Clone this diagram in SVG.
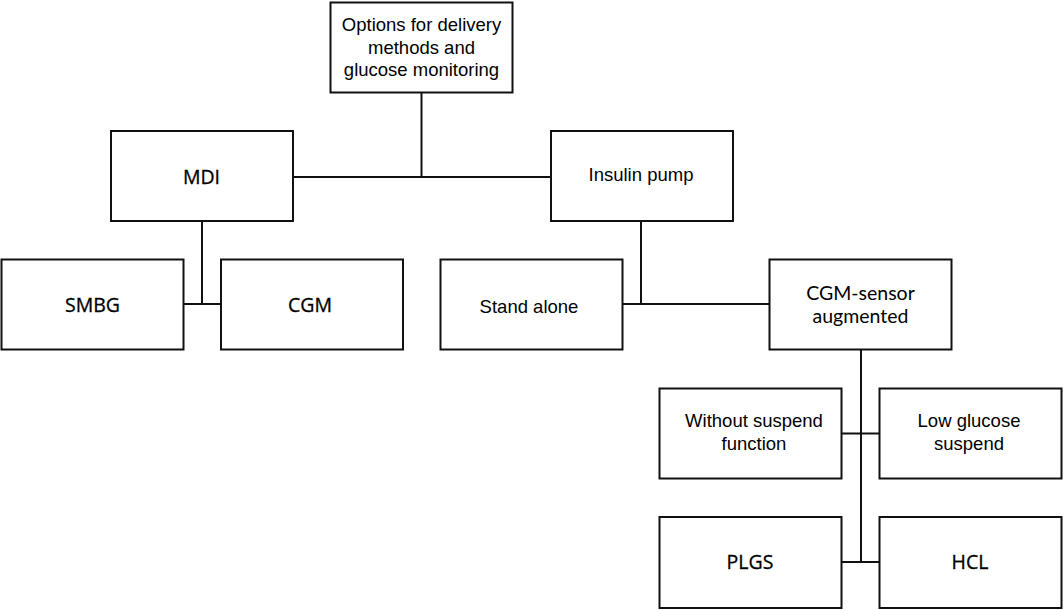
<svg xmlns="http://www.w3.org/2000/svg" width="1064" height="611" viewBox="0 0 1064 611">
<style>
.box{fill:#fff;stroke:#111;stroke-width:2}
.conn line{stroke:#111;stroke-width:2}
.a{font-family:"Liberation Sans",Arial,sans-serif;font-size:18.5px;fill:#000;text-anchor:middle}
.s{font-family:"Open Sans","Noto Sans",sans-serif;font-size:19.5px;fill:#000;text-anchor:middle;stroke:#000;stroke-width:0.3}
.c{font-family:Lato,"Open Sans",sans-serif;font-size:19.5px;fill:#000;text-anchor:middle}
</style>
<rect width="1064" height="611" fill="#fff"/>
<g id="connectors" class="conn">
<line x1="421.5" y1="92" x2="421.5" y2="177"/>
<line x1="293" y1="177" x2="551" y2="177"/>
<line x1="202" y1="221" x2="202" y2="304"/>
<line x1="183" y1="304" x2="221" y2="304"/>
<line x1="641" y1="221" x2="641" y2="304"/>
<line x1="622" y1="304" x2="769" y2="304"/>
<line x1="861" y1="349" x2="861" y2="562"/>
<line x1="842" y1="433.5" x2="879" y2="433.5"/>
<line x1="842" y1="562" x2="879" y2="562"/>
</g>
<g id="root">
<rect class="box" x="330.5" y="2.5" width="182" height="90"/>
<text class="a" x="421.5" y="31">Options for delivery</text>
<text class="a" x="421.5" y="53.5">methods and</text>
<text class="a" x="421.5" y="76">glucose monitoring</text>
</g>
<g id="mdi">
<rect class="box" x="111" y="131" width="182" height="90"/>
<text class="s" x="201.5" y="183.5">MDI</text>
</g>
<g id="pump">
<rect class="box" x="551" y="131" width="182" height="90"/>
<text class="a" x="641" y="180.5">Insulin pump</text>
</g>
<g id="smbg">
<rect class="box" x="1.5" y="259.5" width="182" height="90"/>
<text class="s" x="92.5" y="312">SMBG</text>
</g>
<g id="cgm">
<rect class="box" x="221" y="259.5" width="182" height="90"/>
<text class="s" x="310" y="312">CGM</text>
</g>
<g id="standalone">
<rect class="box" x="440.5" y="259.5" width="182" height="90"/>
<text class="a" x="529" y="313">Stand alone</text>
</g>
<g id="cgmsensor">
<rect class="box" x="769.5" y="259.5" width="182" height="90"/>
<text class="c" x="860.5" y="300">CGM-sensor</text>
<text class="c" x="860.5" y="322.5">augmented</text>
</g>
<g id="without">
<rect class="box" x="659.5" y="388.5" width="182" height="90"/>
<text class="a" x="754" y="427">Without suspend</text>
<text class="a" x="754" y="450">function</text>
</g>
<g id="lowglucose">
<rect class="box" x="879.5" y="388.5" width="182" height="90"/>
<text class="a" x="969" y="427">Low glucose</text>
<text class="a" x="969" y="450">suspend</text>
</g>
<g id="plgs">
<rect class="box" x="659.5" y="517" width="182" height="91"/>
<text class="s" x="750" y="568.5">PLGS</text>
</g>
<g id="hcl">
<rect class="box" x="879.5" y="517" width="182" height="91"/>
<text class="s" x="970" y="568.5">HCL</text>
</g>
</svg>
